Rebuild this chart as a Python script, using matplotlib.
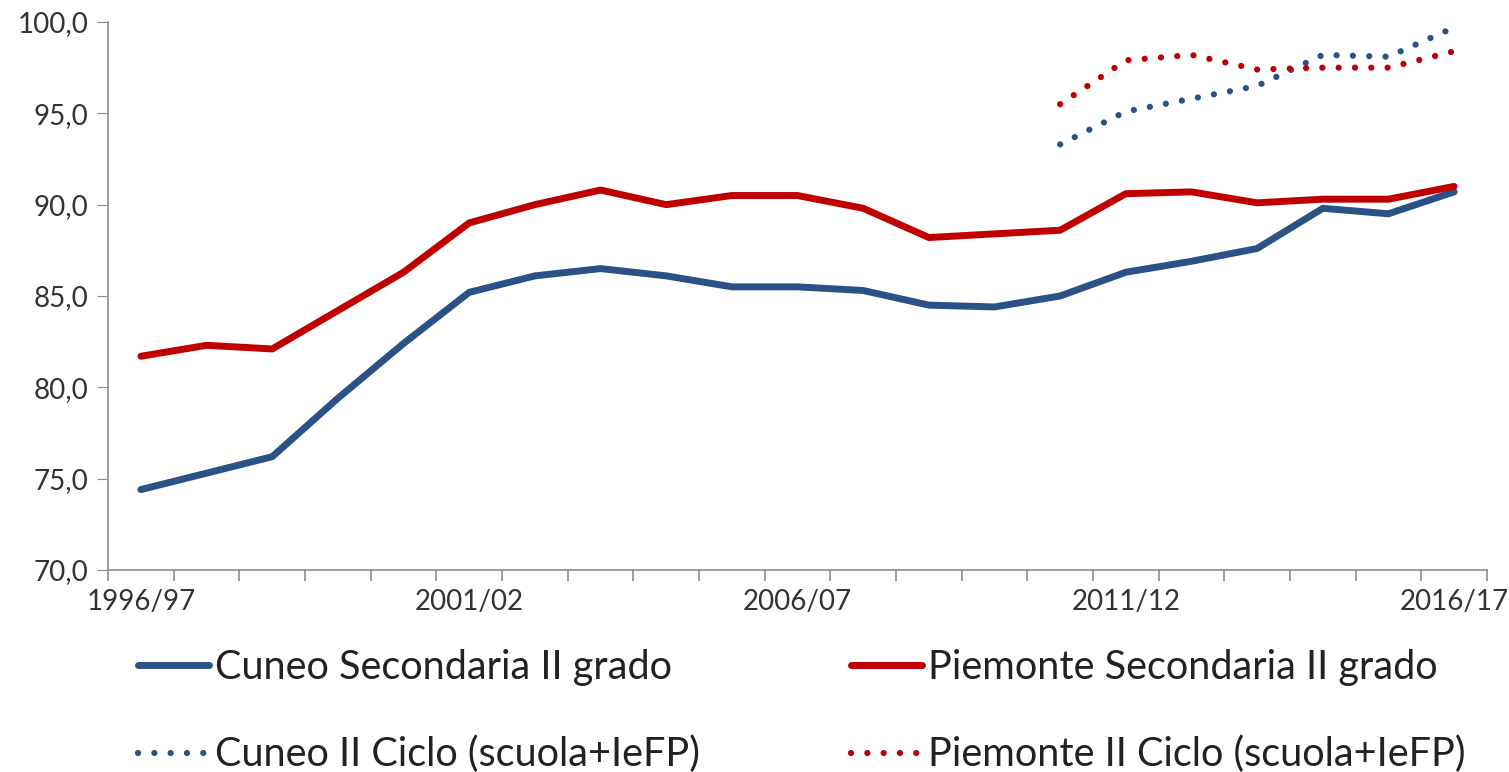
import matplotlib.pyplot as plt
import numpy as np

plt.rcParams['font.family'] = ['Lato', 'DejaVu Sans']

years = ["1996/97", "1997/98", "1998/99", "1999/00", "2000/01", "2001/02", "2002/03",
         "2003/04", "2004/05", "2005/06", "2006/07", "2007/08", "2008/09", "2009/10",
         "2010/11", "2011/12", "2012/13", "2013/14", "2014/15", "2015/16", "2016/17"]

cuneo_sec = [74.4, 75.3, 76.2, 79.4, 82.4, 85.2, 86.1, 86.5, 86.1, 85.5, 85.5,
             85.3, 84.5, 84.4, 85.0, 86.3, 86.9, 87.6, 89.8, 89.5, 90.7]
piem_sec = [81.7, 82.3, 82.1, 84.2, 86.3, 89.0, 90.0, 90.8, 90.0, 90.5, 90.5,
            89.8, 88.2, 88.4, 88.6, 90.6, 90.7, 90.1, 90.3, 90.3, 91.0]
# II Ciclo series only from 2010/11
cuneo_ciclo = [93.3, 95.1, 95.8, 96.5, 98.2, 98.1, 99.7]
piem_ciclo = [95.5, 97.9, 98.2, 97.4, 97.5, 97.5, 98.4]

blue = "#2B5286"
red = "#C00000"

fig = plt.figure(figsize=(15.09, 7.72), dpi=100)
ax = fig.add_axes([0.0716, 0.2617, 0.9138, 0.7098])

x = np.arange(len(years))
xc = x[len(years) - len(cuneo_ciclo):]

ax.plot(x, cuneo_sec, color=blue, lw=5, solid_capstyle="round", solid_joinstyle="round",
        label="Cuneo Secondaria II grado")
ax.plot(x, piem_sec, color=red, lw=5, solid_capstyle="round", solid_joinstyle="round",
        label="Piemonte Secondaria II grado")
ax.plot(xc, cuneo_ciclo, color=blue, lw=4.5, linestyle=(0, (0.01, 2.6)), dash_capstyle="round",
        label="Cuneo II Ciclo (scuola+IeFP)")
ax.plot(xc, piem_ciclo, color=red, lw=4.5, linestyle=(0, (0.01, 2.6)), dash_capstyle="round",
        label="Piemonte II Ciclo (scuola+IeFP)")

ax.set_xlim(-0.5, len(years) - 0.5)
ax.set_ylim(70, 100)
ax.set_yticks(np.arange(70, 101, 5))
ax.set_yticklabels([f"{v:.1f}".replace(".", ",") for v in np.arange(70, 101, 5)])
ax.set_xticks(x[::5])
ax.set_xticklabels(years[::5])
ax.set_xticks(np.arange(-0.5, len(years), 1), minor=True)

for s in ["top", "right"]:
    ax.spines[s].set_visible(False)
for s in ["left", "bottom"]:
    ax.spines[s].set_color("#8c8c8c")
    ax.spines[s].set_linewidth(1.2)

ax.tick_params(axis="y", length=8, color="#8c8c8c", labelsize=20, labelcolor="#333333", pad=6)
ax.tick_params(axis="x", which="major", length=0, labelsize=20, labelcolor="#333333", pad=14)
ax.tick_params(axis="x", which="minor", length=8, color="#8c8c8c", width=1.2)

# legend order: row by row
h, l = ax.get_legend_handles_labels()
order = [0, 2, 1, 3]
fig.legend([h[i] for i in order], [l[i] for i in order], ncol=2,
           loc="lower left", bbox_to_anchor=(0.068, -0.048), frameon=False,
           fontsize=28.5, handlelength=1.8, handletextpad=0.15, columnspacing=3.8,
           labelspacing=1.25, labelcolor="#222222")

fig.savefig("out.png", dpi=100)
